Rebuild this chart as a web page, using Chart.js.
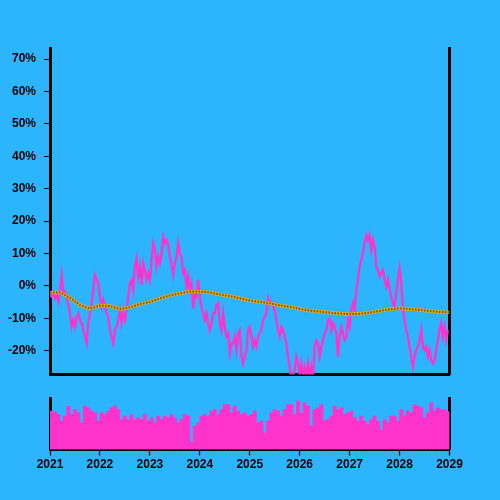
<!DOCTYPE html>
<html>
<head>
<meta charset="utf-8">
<script src="https://cdn.jsdelivr.net/npm/chart.js@4.4.1/dist/chart.umd.min.js"></script>
<style>
  html, body { margin: 0; padding: 0; background: #2cb5fc; }
  body { width: 500px; height: 500px; position: relative; overflow: hidden; }
  canvas { position: absolute; left: 0; }
  #main { top: 0; }
  #vol { top: 385px; }
</style>
</head>
<body>
<canvas id="main" width="500" height="390"></canvas>
<canvas id="vol" width="500" height="115"></canvas>
<script>
// years shown on the shared time axis
const startYear = 2021;
const endYear = 2029;

// return in % (about every 12 days)
const priceReturn = [
    -2.8, -3.3, -2.3, -3.8, -2.8, -4.8, -1.2, 3.4, -2.3, -1.7,
    -3.3, -5.9, -8.4, -12.6, -10.5, -12.6, -9.5, -8.4, -10.5, -11.5,
    -13.6, -15.6, -17.7, -11.5, -8.4, -5.3, -1.2, 3.4, 1.9, 0.8,
    -3.3, -6.4, -4.3, -6.4, -8.4, -9.5, -13.6, -15.6, -17.7, -13.6,
    -12.6, -10.5, -7.4, -11.5, -8.4, -10.5, -7.4, -3.3, 0.8, 1.9,
    -1.2, 6.0, 8.5, 2.9, 6.0, 0.3, 7.0, 4.9, 1.9, 3.9,
    1.9, 8.0, 13.2, 11.1, 6.0, 9.1, 7.0, 10.1, 15.2, 13.2,
    14.2, 12.7, 9.1, 7.0, 3.4, 7.0, 9.1, 13.2, 10.1, 9.1,
    3.9, 4.9, -0.2, 2.9, -1.2, 0.8, -6.9, -2.3, -3.3, 1.9,
    -3.3, -6.4, -8.4, -10.5, -8.4, -11.5, -13.6, -11.5, -8.4, -8.4,
    -5.9, -5.3, -11.5, -13.6, -8.4, -12.6, -15.6, -14.6, -20.8, -17.7,
    -17.7, -15.6, -19.8, -14.6, -13.6, -21.3, -23.9, -21.8, -19.8, -13.6,
    -12.6, -15.6, -18.7, -16.7, -18.7, -15.6, -14.6, -13.6, -10.5, -9.5,
    -8.4, -3.8, -5.3, -4.8, -6.4, -7.4, -10.5, -13.6, -15.6, -12.6,
    -13.6, -15.6, -17.7, -21.8, -24.9, -28.5, -27.5, -25.9, -21.8, -23.9,
    -27.5, -23.9, -28.0, -24.9, -27.5, -23.9, -28.5, -24.9, -28.0, -18.7,
    -16.7, -17.7, -21.8, -18.7, -16.7, -14.6, -13.6, -10.5, -10.0, -13.6,
    -11.5, -12.6, -14.6, -21.8, -15.6, -12.6, -14.6, -16.7, -15.6, -10.5,
    -12.6, -7.4, -5.3, -7.4, -1.2, 1.9, 6.0, 8.0, 10.1, 13.2,
    15.7, 14.2, 15.7, 11.1, 14.2, 12.1, 6.0, 4.9, 2.9, 3.9,
    4.9, 1.9, -0.2, 1.9, -1.2, -3.3, -5.3, -6.4, -2.3, 1.9,
    5.5, 0.8, -7.4, -10.5, -13.6, -15.6, -18.7, -21.8, -24.9, -21.8,
    -19.8, -18.7, -16.7, -13.6, -18.7, -19.8, -18.7, -21.8, -19.8, -22.8,
    -23.9, -22.8, -19.8, -16.7, -13.6, -11.5, -15.6, -12.6, -16.7, -13.6
];

// slow moving average in %, every ~2.4 months
const avgReturn = [
    -2.0, -2.0, -3.6, -5.9, -7.0, -6.0, -6.2, -7.1, -6.6, -5.6,
    -4.9, -3.8, -2.9, -2.3, -1.7, -1.7, -2.0, -2.6, -3.1, -3.8,
    -4.5, -4.9, -5.3, -6.0, -6.4, -7.1, -7.6, -7.9, -8.2, -8.5,
    -8.7, -8.6, -8.2, -7.7, -7.2, -6.9, -7.1, -7.4, -7.7, -8.0,
    -8.1
];

// traded volume (relative units), ~3.2 weeks per bar
const volume = [
    38.3, 37.3, 35, 28.3, 33.3, 43.3, 35, 40, 36.7, 26.7,
    43.3, 41.7, 38.3, 36.7, 28.3, 36.7, 35, 38.3, 41.7, 43.3,
    40, 30, 33.3, 30, 35, 30, 31.7, 30, 35, 28.3,
    31.7, 26.7, 33.3, 30, 33.3, 31.7, 35, 31.7, 26.7, 30,
    35, 33.3, 7.3, 23.3, 26.7, 33.3, 35, 33.3, 38.3, 40,
    35, 40, 45, 45, 36.7, 43.3, 38.3, 35, 36.7, 33.3,
    35, 38.3, 26.7, 28.3, 16.7, 28.3, 36.7, 40, 38.3, 33.3,
    40, 45, 45, 35, 48.3, 36.7, 46.7, 43.3, 23.3, 40,
    41.7, 45, 28.3, 30, 33.3, 43.3, 40, 41.7, 35, 36.7,
    38.3, 31.7, 28.3, 33.3, 28.3, 25, 30, 33.3, 28.3, 20,
    30, 26.7, 33.3, 33.3, 28.3, 40, 33.3, 38.3, 36.7, 45,
    43.3, 41.7, 31.7, 36.7, 46.7, 38.3, 41.7, 40, 40, 38
];

const span = endYear - startYear;
const pricePoints = priceReturn.map((v, i) => ({ x: startYear + i * span / priceReturn.length, y: v }));
const avgPoints = avgReturn.map((v, i) => ({ x: startYear + i * span / (avgReturn.length - 1), y: v }));
const volPoints = volume.map((v, i) => ({ x: startYear + (i + 0.5) * span / volume.length, y: v }));

Chart.defaults.font.family = "'Liberation Sans', Arial, sans-serif";
Chart.defaults.font.size = 12;
Chart.defaults.font.weight = 'bold';
Chart.defaults.color = '#000';

const pink = '#ff33cc';
const axisBorder = { display: true, color: '#000', width: 3 };

new Chart(document.getElementById('main'), {
    type: 'line',
    data: {
        datasets: [
            { data: avgPoints, borderColor: '#4e5c36', borderWidth: 2, borderDash: [1.5, 1.5], pointRadius: 0 },
            { data: avgPoints, borderColor: '#f2a30f', borderWidth: 3.5, pointRadius: 0 },
            { data: pricePoints, borderColor: pink, borderWidth: 2.3, pointRadius: 0 }
        ]
    },
    options: {
        responsive: false,
        animation: false,
        devicePixelRatio: 1,
        layout: { padding: { top: 48, right: 50.5, bottom: 15.5, left: 0 } },
        plugins: { legend: { display: false }, tooltip: { enabled: false } },
        scales: {
            x: {
                type: 'linear', min: startYear, max: endYear,
                ticks: { display: false },
                grid: { display: false },
                border: axisBorder,
                afterFit: s => { s.height = 0; }
            },
            y: {
                min: -27.3, max: 73.4,
                ticks: { stepSize: 10, includeBounds: false, padding: 8, callback: v => Math.round(v) + '%' },
                grid: { drawOnChartArea: false, tickLength: 6, tickColor: '#000', tickWidth: 1 },
                border: axisBorder,
                afterFit: s => { s.width = 50; }
            },
            y2: {
                position: 'right', min: -27.3, max: 73.4,
                ticks: { display: false },
                grid: { display: false },
                border: axisBorder,
                afterFit: s => { s.width = 0; }
            }
        }
    }
});

new Chart(document.getElementById('vol'), {
    type: 'bar',
    data: {
        datasets: [
            { data: volPoints, backgroundColor: pink, borderWidth: 0, barPercentage: 1, categoryPercentage: 1 }
        ]
    },
    options: {
        responsive: false,
        animation: false,
        devicePixelRatio: 1,
        layout: { padding: { top: 13, right: 50.5, bottom: 0, left: 0 } },
        plugins: { legend: { display: false }, tooltip: { enabled: false } },
        scales: {
            x: {
                type: 'linear', min: startYear, max: endYear, offset: false,
                ticks: { stepSize: 1, padding: 2, maxRotation: 0, callback: v => String(v) },
                grid: { drawOnChartArea: false, offset: false, tickLength: 6, tickColor: '#000', tickWidth: 1.3 },
                border: axisBorder,
                afterFit: s => { s.height = 50.5; }
            },
            y: {
                min: 0, max: 51.5,
                ticks: { display: false },
                grid: { display: false },
                border: axisBorder,
                afterFit: s => { s.width = 50; }
            },
            y2: {
                position: 'right', min: 0, max: 51.5,
                ticks: { display: false },
                grid: { display: false },
                border: axisBorder,
                afterFit: s => { s.width = 0; }
            }
        }
    }
});
</script>
</body>
</html>
